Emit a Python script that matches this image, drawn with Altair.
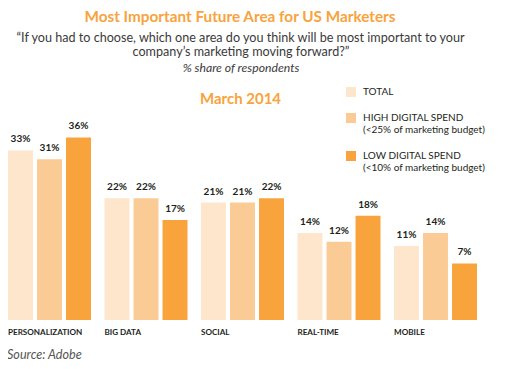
import altair as alt
import pandas as pd

categories = ["PERSONALIZATION", "BIG DATA", "SOCIAL", "REAL-TIME", "MOBILE"]
series = [
    "TOTAL",
    "HIGH DIGITAL SPEND|(<25% of marketing budget)",
    "LOW DIGITAL SPEND|(<10% of marketing budget)",
]
total = [33, 22, 21, 14, 11]
high_spend = [31, 22, 21, 12, 14]
low_spend = [36, 17, 22, 18, 7]
colors = ["#FDE6CC", "#FBCB95", "#F8A33C"]

title_text = "Most Important Future Area for US Marketers"
question_1 = "\u201cIf you had to choose, which one area do you think will be most important to your"
question_2 = "company\u2019s marketing moving forward?\u201d"
unit_text = "% share of respondents"
period_text = "March 2014"
source_text = "Source: Adobe"

rows = []
for s, vals in zip(series, [total, high_spend, low_spend]):
    for c, v in zip(categories, vals):
        rows.append({"category": c, "series": s, "value": v, "label": f"{v}%"})
df = pd.DataFrame(rows)

FONT = "Lato"
W, H = 469, 200

x_enc = alt.X(
    "category:N",
    sort=categories,
    scale=alt.Scale(paddingInner=0.14, paddingOuter=0),
    axis=alt.Axis(
        title=None, domain=False, ticks=False, labelAngle=0, labelAlign="left",
        labelOffset=-41.5, labelBaseline="top", labelPadding=8,
        labelFont=FONT, labelFontSize=8.1, labelFontWeight="bold", labelColor="#231f20",
    ),
)
xo_enc = alt.XOffset("series:N", sort=series, scale=alt.Scale(paddingInner=0.14, paddingOuter=0))
y_scale = alt.Scale(domain=[-6, 40], zero=False, nice=False)

bars = alt.Chart(df).mark_bar().encode(
    x=x_enc,
    xOffset=xo_enc,
    y=alt.Y("value:Q", scale=y_scale, axis=None),
    y2=alt.datum(-6),
    color=alt.Color(
        "series:N", sort=series,
        scale=alt.Scale(domain=series, range=colors),
        legend=alt.Legend(
            title=None, orient="none", legendX=338, legendY=-33, padding=0,
            symbolType="square", symbolSize=100, symbolStrokeWidth=0, symbolOpacity=1,
            labelExpr="split(datum.label, '|')", labelFont=FONT, labelFontSize=10,
            labelColor="#231f20", labelLimit=300, rowPadding=16, labelOffset=7,
        ),
    ),
)

values = alt.Chart(df).mark_text(
    dy=-6, baseline="bottom", font=FONT, fontSize=10, fontWeight="bold", color="#231f20"
).encode(
    x=alt.X("category:N", sort=categories),
    xOffset=alt.XOffset("series:N", sort=series),
    y=alt.Y("value:Q", scale=y_scale),
    text="label:N",
)


def note(text, x, y, size, color, weight="normal", style="normal", align="center"):
    return alt.Chart(pd.DataFrame({"t": [text]})).mark_text(
        font=FONT, fontSize=size, color=color, fontWeight=weight, fontStyle=style,
        align=align, baseline="middle",
    ).encode(text="t:N", x=alt.value(x), y=alt.value(y))


layers = [
    bars,
    values,
    note(title_text, 232, -103, 15.3, "#F8A33C", weight="bold"),
    note(question_1, 232.5, -82, 12.6, "#3a3a3a"),
    note(question_2, 233, -68, 12.6, "#3a3a3a"),
    note(unit_text, 233, -52, 12.2, "#3a3a3a", style="italic"),
    note(period_text, 232.5, -21, 15, "#F8A33C", weight="bold"),
    note(source_text, -1, 235, 12.6, "#555555", style="italic", align="left"),
]

chart = alt.layer(*layers).properties(
    width=W, height=H,
    autosize=alt.AutoSizeParams(type="none"),
    padding={"left": 0, "top": 112, "right": 27, "bottom": 46},
).configure_view(stroke=None)

chart.save("out.html", embed_options={"renderer": "svg", "actions": False})
